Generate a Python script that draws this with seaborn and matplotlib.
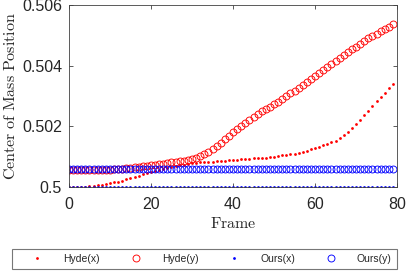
import numpy as np
import pandas as pd
import seaborn as sns
import matplotlib.pyplot as plt

frames = np.arange(80)

# offsets above 0.5, in units of 1e-3
hyde_x_off = [0, 0, 0, 0, 0.01, 0.02, 0.03, 0.05, 0.07, 0.09,
              0.12, 0.15, 0.18, 0.21, 0.25, 0.29, 0.33, 0.37, 0.42, 0.45,
              0.49, 0.53, 0.56, 0.60, 0.63, 0.66, 0.69, 0.72, 0.74, 0.76,
              0.78, 0.80, 0.81, 0.82, 0.83, 0.84, 0.85, 0.86, 0.87, 0.88,
              0.89, 0.90, 0.91, 0.92, 0.93, 0.94, 0.95, 0.96, 0.97, 0.98,
              1.00, 1.02, 1.04, 1.06, 1.08, 1.10, 1.13, 1.16, 1.20, 1.24,
              1.28, 1.32, 1.37, 1.42, 1.47, 1.53, 1.61, 1.70, 1.81, 1.94,
              2.08, 2.22, 2.37, 2.52, 2.67, 2.82, 2.96, 3.10, 3.25, 3.40]
hyde_y_off = [0.57, 0.57, 0.57, 0.57, 0.57, 0.57, 0.57, 0.57, 0.57, 0.57,
              0.57, 0.58, 0.59, 0.60, 0.62, 0.63, 0.65, 0.66, 0.68, 0.70,
              0.72, 0.73, 0.75, 0.77, 0.79, 0.81, 0.83, 0.85, 0.87, 0.89,
              0.93, 0.97, 1.02, 1.08, 1.16, 1.25, 1.35, 1.46, 1.57, 1.69,
              1.80, 1.91, 2.02, 2.12, 2.22, 2.31, 2.40, 2.49, 2.57, 2.64,
              2.72, 2.80, 2.90, 3.00, 3.09, 3.18, 3.27, 3.36, 3.45, 3.55,
              3.65, 3.75, 3.85, 3.95, 4.04, 4.14, 4.24, 4.34, 4.44, 4.54,
              4.63, 4.72, 4.81, 4.90, 4.98, 5.06, 5.14, 5.22, 5.29, 5.36]
ours_x_val = 0.5
ours_y_val = 0.50058

hyde_x = 0.5 + np.array(hyde_x_off) * 1e-3
hyde_y = 0.5 + np.array(hyde_y_off) * 1e-3
ours_x = [ours_x_val] * len(frames)
ours_y = [ours_y_val] * len(frames)

y_ticks = [0.5, 0.502, 0.504, 0.506]
y_tick_labels = ["0.5", "0.502", "0.504", "0.506"]
x_ticks = [0, 20, 40, 60, 80]

df = pd.DataFrame({"frame": frames, "hyde_x": hyde_x, "hyde_y": hyde_y,
                   "ours_x": ours_x, "ours_y": ours_y})

sns.set_style("white")
plt.rcParams["font.family"] = ["Liberation Sans", "DejaVu Sans"]
plt.rcParams["mathtext.fontset"] = "cm"

fig = plt.figure(figsize=(4.07, 2.71), dpi=100)
ax = fig.add_axes([0.1695, 0.31, 0.806, 0.6715])

edge = "#404040"
sns.lineplot(data=df, x="frame", y="hyde_x", ax=ax, linestyle="none",
             marker="o", ms=2.0, mfc="red", mec="red", mew=0, label="Hyde(x)")
sns.lineplot(data=df, x="frame", y="hyde_y", ax=ax, linestyle="none",
             marker="o", ms=5.0, mfc="none", mec="red", mew=0.65, label="Hyde(y)")
sns.lineplot(data=df, x="frame", y="ours_x", ax=ax, linestyle="none",
             marker="o", ms=2.0, mfc="blue", mec="blue", mew=0, label="Ours(x)")
sns.lineplot(data=df, x="frame", y="ours_y", ax=ax, linestyle="none",
             marker="o", ms=5.0, mfc="none", mec="blue", mew=0.65, label="Ours(y)")

ax.set_xlim(0, 80)
ax.set_ylim(0.5, 0.506)
ax.set_xticks(x_ticks)
ax.set_yticks(y_ticks)
ax.set_yticklabels(y_tick_labels)
ax.tick_params(direction="in", length=3, width=0.6, colors=edge,
               labelcolor="#262626", labelsize=11.5, top=True, right=True,
               bottom=True, left=True)
ax.tick_params(axis="x", pad=7)
ax.tick_params(axis="y", pad=5)
for s in ax.spines.values():
    s.set_color(edge)
    s.set_linewidth(0.6)

ax.set_xlabel(r"$\mathrm{Frame}$", fontsize=11.5, color="#262626", labelpad=3)
ax.set_ylabel(r"$\mathrm{Center\ of\ Mass\ Position}$", fontsize=11.5,
              color="#262626", labelpad=3)

handles, labels = ax.get_legend_handles_labels()
ax.get_legend().remove()
leg = fig.legend(handles, labels, ncol=4, loc="lower left",
                 bbox_to_anchor=(0.03, 0.007, 0.945, 0.092), mode="expand",
                 fancybox=False, frameon=True, fontsize=7.5,
                 handlelength=3.8, handletextpad=0.6, borderaxespad=0,
                 borderpad=0.5)
leg.get_frame().set_edgecolor("#555555")
leg.get_frame().set_linewidth(0.8)

fig.savefig("out.png", dpi=100)
